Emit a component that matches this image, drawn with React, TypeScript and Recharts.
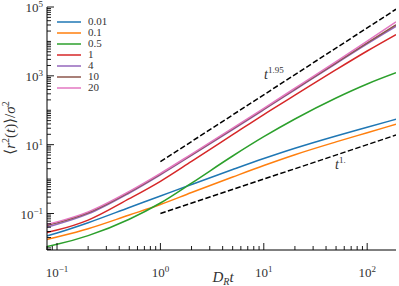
import { Legend, Line, LineChart, XAxis, YAxis } from 'recharts';

// D_R t sample points and <r^2(t)>/sigma^2
const times = [0.08, 0.1, 0.2, 0.5, 1, 2, 5, 10, 20, 50, 100, 190];
const msd001 = [0.0222, 0.02713, 0.05403, 0.1494, 0.3224, 0.6961, 1.898, 3.962, 7.892, 17.97, 32.16, 54.92];
const msd01 = [0.01757, 0.02077, 0.03618, 0.09046, 0.1826, 0.4075, 1.149, 2.48, 5.109, 12.03, 22.26, 39.31];
const msd05 = [0.011, 0.01274, 0.0228, 0.06831, 0.2019, 0.7641, 4.683, 17.03, 55.66, 226.8, 578.7, 1224];
const msd1 = [0.02805, 0.03294, 0.06432, 0.2692, 0.8622, 3.264, 19.47, 75.19, 273.4, 1506, 5262, 15760];
const msd4 = [0.04052, 0.04856, 0.09736, 0.3941, 1.331, 4.875, 27.56, 103.7, 392.5, 2280, 8516, 27460];
const msd10 = [0.0448, 0.05332, 0.1048, 0.4157, 1.395, 5.075, 28.7, 107.9, 408.6, 2389, 9106, 30350];
const msd20 = [0.04791, 0.05702, 0.1113, 0.4386, 1.462, 5.317, 30.08, 113.9, 436.9, 2606, 10270, 37100];

const seriesNames = ['0.01', '0.1', '0.5', '1', '4', '10', '20'];
const seriesValues = [msd001, msd01, msd05, msd1, msd4, msd10, msd20];
const colors = ['#1f77b4', '#ff7f0e', '#2ca02c', '#d62728', '#9467bd', '#8c564b', '#e377c2'];

// dashed guide lines t^1.95 and t^1
const guideTimes = [1, 190];
const guideSteep = [3.2, 86000];
const guideLinear = [0.1, 19];

const xMajor = [0.1, 1, 10, 100];
const yMajor = [0.1, 10, 1000, 100000];
const xDomain = [0.08, 190];
const yDomain = [0.0087, 100000];

const inDomain = (v: number, d: number[]) => v >= d[0] * 0.9999 && v <= d[1] * 1.0001;
const logTicks = (lo: number, hi: number, d: number[]) => {
  const out: number[] = [];
  for (let k = lo; k <= hi; k++) {
    for (let m = 1; m <= 9; m++) {
      const v = parseFloat((m * Math.pow(10, k)).toPrecision(6));
      if (inDomain(v, d)) out.push(v);
    }
  }
  return out;
};
const xTicks = logTicks(-2, 2, xDomain);
const yTicks = logTicks(-3, 5, yDomain);

const rows = times.map((t, i) => {
  const row: Record<string, number> = { t };
  seriesNames.forEach((n, j) => {
    row[n] = seriesValues[j][i];
  });
  return row;
});
const steepRows = guideTimes.map((t, i) => ({ t, v: guideSteep[i] }));
const linearRows = guideTimes.map((t, i) => ({ t, v: guideLinear[i] }));

const serif = '"Liberation Serif", "DejaVu Serif", serif';
const textColor = '#333';

const isMajor = (v: number, majors: number[]) => majors.some((m) => Math.abs(m - v) / m < 1e-6);
const expOf = (v: number) => {
  const e = Math.round(Math.log10(v));
  return e < 0 ? `\u2212${-e}` : `${e}`;
};

function XTick(props: any) {
  const { x, y, payload, side } = props;
  const major = isMajor(payload.value, xMajor);
  const len = major ? 7 : 4;
  const top = side === 'top';
  return (
    <g>
      <line x1={x} x2={x} y1={y} y2={top ? y + len : y - len} stroke="#000" strokeWidth={0.9} />
      {major && !top && (
        <text x={x} y={y + 27} textAnchor="middle" fontFamily={serif} fontSize={13} fill={textColor}>
          10
          <tspan dy={-5} fontSize={9}>
            {expOf(payload.value)}
          </tspan>
        </text>
      )}
    </g>
  );
}

function YTick(props: any) {
  const { x, y, payload, side } = props;
  const major = isMajor(payload.value, yMajor);
  const len = major ? 7 : 4;
  const right = side === 'right';
  return (
    <g>
      <line x1={x} x2={right ? x - len : x + len} y1={y} y2={y} stroke="#000" strokeWidth={0.9} />
      {major && !right && (
        <text x={x - 4} y={y + 5} textAnchor="end" fontFamily={serif} fontSize={13} fill={textColor}>
          10
          <tspan dy={-5} fontSize={9}>
            {expOf(payload.value)}
          </tspan>
        </text>
      )}
    </g>
  );
}

function LegendBox() {
  return (
    <div style={{ fontFamily: serif, fontSize: 11, lineHeight: '11px', color: textColor }}>
      {seriesNames.map((n, i) => (
        <div key={n} style={{ display: 'flex', alignItems: 'center', height: 11 }}>
          <svg width={24} height={4} style={{ marginRight: 7 }}>
            <line x1={0} x2={24} y1={2} y2={2} stroke={colors[i]} strokeWidth={1.5} />
          </svg>
          <span>{n}</span>
        </div>
      ))}
    </div>
  );
}

export default function App() {
  return (
    <div style={{ position: 'absolute', left: 0, top: 0, width: 399, height: 286 }}>
      <LineChart width={399} height={286} data={rows} margin={{ top: 7, right: 3, bottom: 0, left: 0 }}>
        <XAxis
          dataKey="t"
          type="number"
          scale="log"
          domain={xDomain}
          allowDataOverflow
          ticks={xTicks}
          interval={0}
          height={36}
          tickLine={false}
          tickSize={0}
          tickMargin={0}
          axisLine={{ stroke: '#000', strokeWidth: 1 }}
          tick={<XTick side="bottom" />}
        />
        <XAxis
          xAxisId="top"
          orientation="top"
          dataKey="t"
          type="number"
          scale="log"
          domain={xDomain}
          allowDataOverflow
          ticks={xTicks}
          interval={0}
          height={0}
          tickLine={false}
          tickSize={0}
          tickMargin={0}
          axisLine={{ stroke: '#000', strokeWidth: 1 }}
          tick={<XTick side="top" />}
        />
        <YAxis
          type="number"
          scale="log"
          domain={yDomain}
          allowDataOverflow
          ticks={yTicks}
          interval={0}
          width={47}
          tickLine={false}
          tickSize={0}
          tickMargin={0}
          axisLine={{ stroke: '#000', strokeWidth: 1 }}
          tick={<YTick side="left" />}
        />
        <YAxis
          yAxisId="right"
          orientation="right"
          type="number"
          scale="log"
          domain={yDomain}
          allowDataOverflow
          ticks={yTicks}
          interval={0}
          width={0}
          tickLine={false}
          tickSize={0}
          tickMargin={0}
          axisLine={{ stroke: '#000', strokeWidth: 1 }}
          tick={<YTick side="right" />}
        />
        <Legend
          layout="vertical"
          align="center"
          verticalAlign="middle"
          wrapperStyle={{ left: 57, top: 16, width: 80 }}
          content={<LegendBox />}
        />
        <Line
          data={steepRows}
          dataKey="v"
          type="linear"
          stroke="#000"
          strokeWidth={1.5}
          strokeDasharray="5.5 2.4"
          dot={false}
          legendType="none"
          isAnimationActive={false}
        />
        <Line
          data={linearRows}
          dataKey="v"
          type="linear"
          stroke="#000"
          strokeWidth={1.5}
          strokeDasharray="5.5 2.4"
          dot={false}
          legendType="none"
          isAnimationActive={false}
        />
        {seriesNames.map((n, i) => (
          <Line
            key={n}
            dataKey={n}
            name={n}
            type="monotone"
            stroke={colors[i]}
            strokeWidth={1.5}
            dot={false}
            isAnimationActive={false}
          />
        ))}
      </LineChart>
      <svg
        width={399}
        height={286}
        style={{ position: 'absolute', left: 0, top: 0, pointerEvents: 'none' }}
        fontFamily={serif}
        fill={textColor}
      >
        <text transform="translate(15,128) rotate(-90)" textAnchor="middle" fontSize={15}>
          {'\u27e8'}
          <tspan fontStyle="italic">r</tspan>
          <tspan dy={-6} fontSize={10}>2</tspan>
          <tspan dy={6}>(</tspan>
          <tspan fontStyle="italic">t</tspan>
          {')\u27e9/'}
          <tspan fontStyle="italic">{'\u03c3'}</tspan>
          <tspan dy={-6} fontSize={10}>2</tspan>
        </text>
        <text x={223} y={282} textAnchor="middle" fontSize={15}>
          <tspan fontStyle="italic">D</tspan>
          <tspan dy={3} fontSize={10} fontStyle="italic">R</tspan>
          <tspan dy={-3} fontStyle="italic">t</tspan>
        </text>
        <text x={264} y={79} fontSize={14}>
          <tspan fontStyle="italic">t</tspan>
          <tspan dy={-6} fontSize={9}>1.95</tspan>
        </text>
        <text x={335} y={169} fontSize={14}>
          <tspan fontStyle="italic">t</tspan>
          <tspan dy={-6} fontSize={9}>1.</tspan>
        </text>
      </svg>
    </div>
  );
}
